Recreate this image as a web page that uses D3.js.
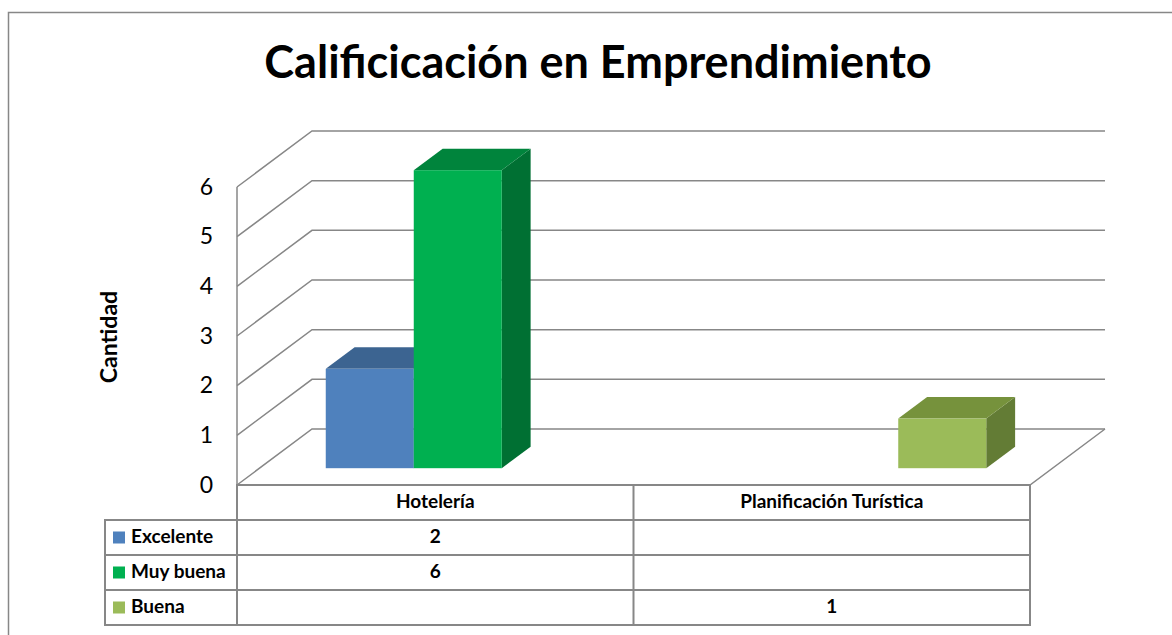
<!DOCTYPE html>
<html>
<head>
<meta charset="utf-8">
<script src="https://cdn.jsdelivr.net/npm/d3@7"></script>
<style>
    body { margin: 0; background: #fff; }
    svg { display: block; font-family: Lato, "Open Sans", sans-serif; }
</style>
</head>
<body>
<svg id="chart" width="1172" height="635"></svg>
<script>
// data
const categories = ['Hotelería', 'Planificación Turística'];
const seriesNames = ['Excelente', 'Muy buena', 'Buena'];
const excelente = [2, null];
const muyBuena = [6, null];
const buena = [null, 1];
const yTicks = [0, 1, 2, 3, 4, 5, 6];

const seriesValues = [excelente, muyBuena, buena];
const frontColors = ['#4F81BD', '#00B050', '#9BBB59'];
const topColors = ['#3C6491', '#00843C', '#76923C'];
const sideColors = ['#355885', '#007033', '#637C35'];

const GRID = '#878787';
const svg = d3.select('#chart');

// outer chart border
svg.append('rect')
    .attr('x', 8.5).attr('y', 12.5)
    .attr('width', 1200).attr('height', 700)
    .attr('fill', 'none')
    .attr('stroke', GRID)
    .attr('stroke-width', 1.5);

// title
svg.append('text')
    .attr('x', 598).attr('y', 78)
    .attr('text-anchor', 'middle')
    .attr('font-size', 45)
    .attr('font-weight', 'bold')
    .text('Calificicación en Emprendimiento');

// scales
const x = d3.scaleBand().domain(categories).range([237, 1030]);
const xs = d3.scaleBand().domain(seriesNames).range([0, x.bandwidth()]).paddingOuter(0.753);
const y = d3.scaleLinear().domain([0, 6]).range([485, 187]);
const depthX = d3.scaleLinear().domain([0, 1]).range([0, 75]);
const depthY = d3.scaleLinear().domain([0, 1]).range([0, -56]);

const xLeft = x.range()[0], xRight = x.range()[1];

// walls: gridlines on side + back wall
const walls = svg.append('g')
    .attr('fill', 'none')
    .attr('stroke', GRID)
    .attr('stroke-width', 1.5);

yTicks.forEach(t => {
    walls.append('path')
        .attr('d', d3.line()([
            [xLeft, y(t)],
            [xLeft + depthX(1), y(t) + depthY(1)],
            [xRight + depthX(1), y(t) + depthY(1)]
        ]));
});
walls.append('line')
    .attr('x1', xLeft).attr('x2', xLeft)
    .attr('y1', y(6)).attr('y2', y(0));
// floor
walls.append('path')
    .attr('d', d3.line()([
        [xLeft, y(0)],
        [xRight, y(0)],
        [xRight + depthX(1), y(0) + depthY(1)]
    ]));

// y axis labels
svg.append('g')
    .selectAll('text')
    .data(yTicks)
    .join('text')
    .attr('x', 213)
    .attr('y', d => y(d) + 2)
    .attr('text-anchor', 'end')
    .attr('dominant-baseline', 'middle')
    .attr('font-size', 23)
    .text(d => d);

svg.append('text')
    .attr('transform', 'translate(117,337) rotate(-90)')
    .attr('text-anchor', 'middle')
    .attr('font-size', 23)
    .attr('font-weight', 'bold')
    .text('Cantidad');

// 3d bars
const z0 = 0.3, z1 = 0.685;
const ddx = depthX(z1) - depthX(z0);
const ddy = depthY(z1) - depthY(z0);

let bars = [];
categories.forEach((c, ci) => {
    seriesNames.forEach((s, si) => {
        let v = seriesValues[si][ci];
        if (v == null) return;
        bars.push({ cat: c, series: s, si: si, value: v });
    });
});

const barG = svg.append('g')
    .selectAll('g')
    .data(bars)
    .join('g');

barG.each(function(d) {
    const g = d3.select(this);
    const x0 = x(d.cat) + xs(d.series) + depthX(z0);
    const x1 = x0 + xs.bandwidth();
    const yb = y(0) + depthY(z0);
    const yt = y(d.value) + depthY(z0);

    g.append('path')
        .attr('d', d3.line()([[x1, yt], [x1 + ddx, yt + ddy], [x1 + ddx, yb + ddy], [x1, yb]]) + 'Z')
        .attr('fill', sideColors[d.si]);
    g.append('path')
        .attr('d', d3.line()([[x0, yt], [x1, yt], [x1 + ddx, yt + ddy], [x0 + ddx, yt + ddy]]) + 'Z')
        .attr('fill', topColors[d.si]);
    g.append('rect')
        .attr('x', x0).attr('y', yt)
        .attr('width', x1 - x0).attr('height', yb - yt)
        .attr('fill', frontColors[d.si]);
});

// data table
const rowTop = 485, rowH = 35;
const legendLeft = 105;
const table = svg.append('g');
const lines = table.append('g')
    .attr('stroke', GRID)
    .attr('stroke-width', 2)
    .attr('fill', 'none');

// header row
lines.append('rect')
    .attr('x', xLeft).attr('y', rowTop)
    .attr('width', xRight - xLeft).attr('height', rowH);
// series rows
seriesNames.forEach((s, i) => {
    lines.append('rect')
        .attr('x', legendLeft).attr('y', rowTop + rowH * (i + 1))
        .attr('width', xRight - legendLeft).attr('height', rowH);
});
lines.append('line')
    .attr('x1', xLeft).attr('x2', xLeft)
    .attr('y1', rowTop).attr('y2', rowTop + rowH * 4);
categories.forEach(c => {
    lines.append('line')
        .attr('x1', x(c) + x.bandwidth()).attr('x2', x(c) + x.bandwidth())
        .attr('y1', rowTop).attr('y2', rowTop + rowH * 4);
});

table.selectAll('.cat-label')
    .data(categories)
    .join('text')
    .attr('class', 'cat-label')
    .attr('x', d => x(d) + x.bandwidth() / 2)
    .attr('y', rowTop + rowH / 2 + 1)
    .attr('text-anchor', 'middle')
    .attr('dominant-baseline', 'middle')
    .attr('font-size', 19)
    .attr('font-weight', 'bold')
    .text(d => d);

seriesNames.forEach((s, i) => {
    const cy = rowTop + rowH * (i + 1) + rowH / 2;
    table.append('rect')
        .attr('x', 113).attr('y', cy - 6)
        .attr('width', 12).attr('height', 12)
        .attr('fill', frontColors[i]);
    table.append('text')
        .attr('x', 131).attr('y', cy + 1)
        .attr('dominant-baseline', 'middle')
        .attr('font-size', 19)
        .attr('font-weight', 'bold')
        .text(s);
    categories.forEach((c, ci) => {
        const v = seriesValues[i][ci];
        if (v == null) return;
        table.append('text')
            .attr('x', x(c) + x.bandwidth() / 2)
            .attr('y', cy + 1)
            .attr('text-anchor', 'middle')
            .attr('dominant-baseline', 'middle')
            .attr('font-size', 19)
            .attr('font-weight', 'bold')
            .text(v);
    });
});
</script>
</body>
</html>
